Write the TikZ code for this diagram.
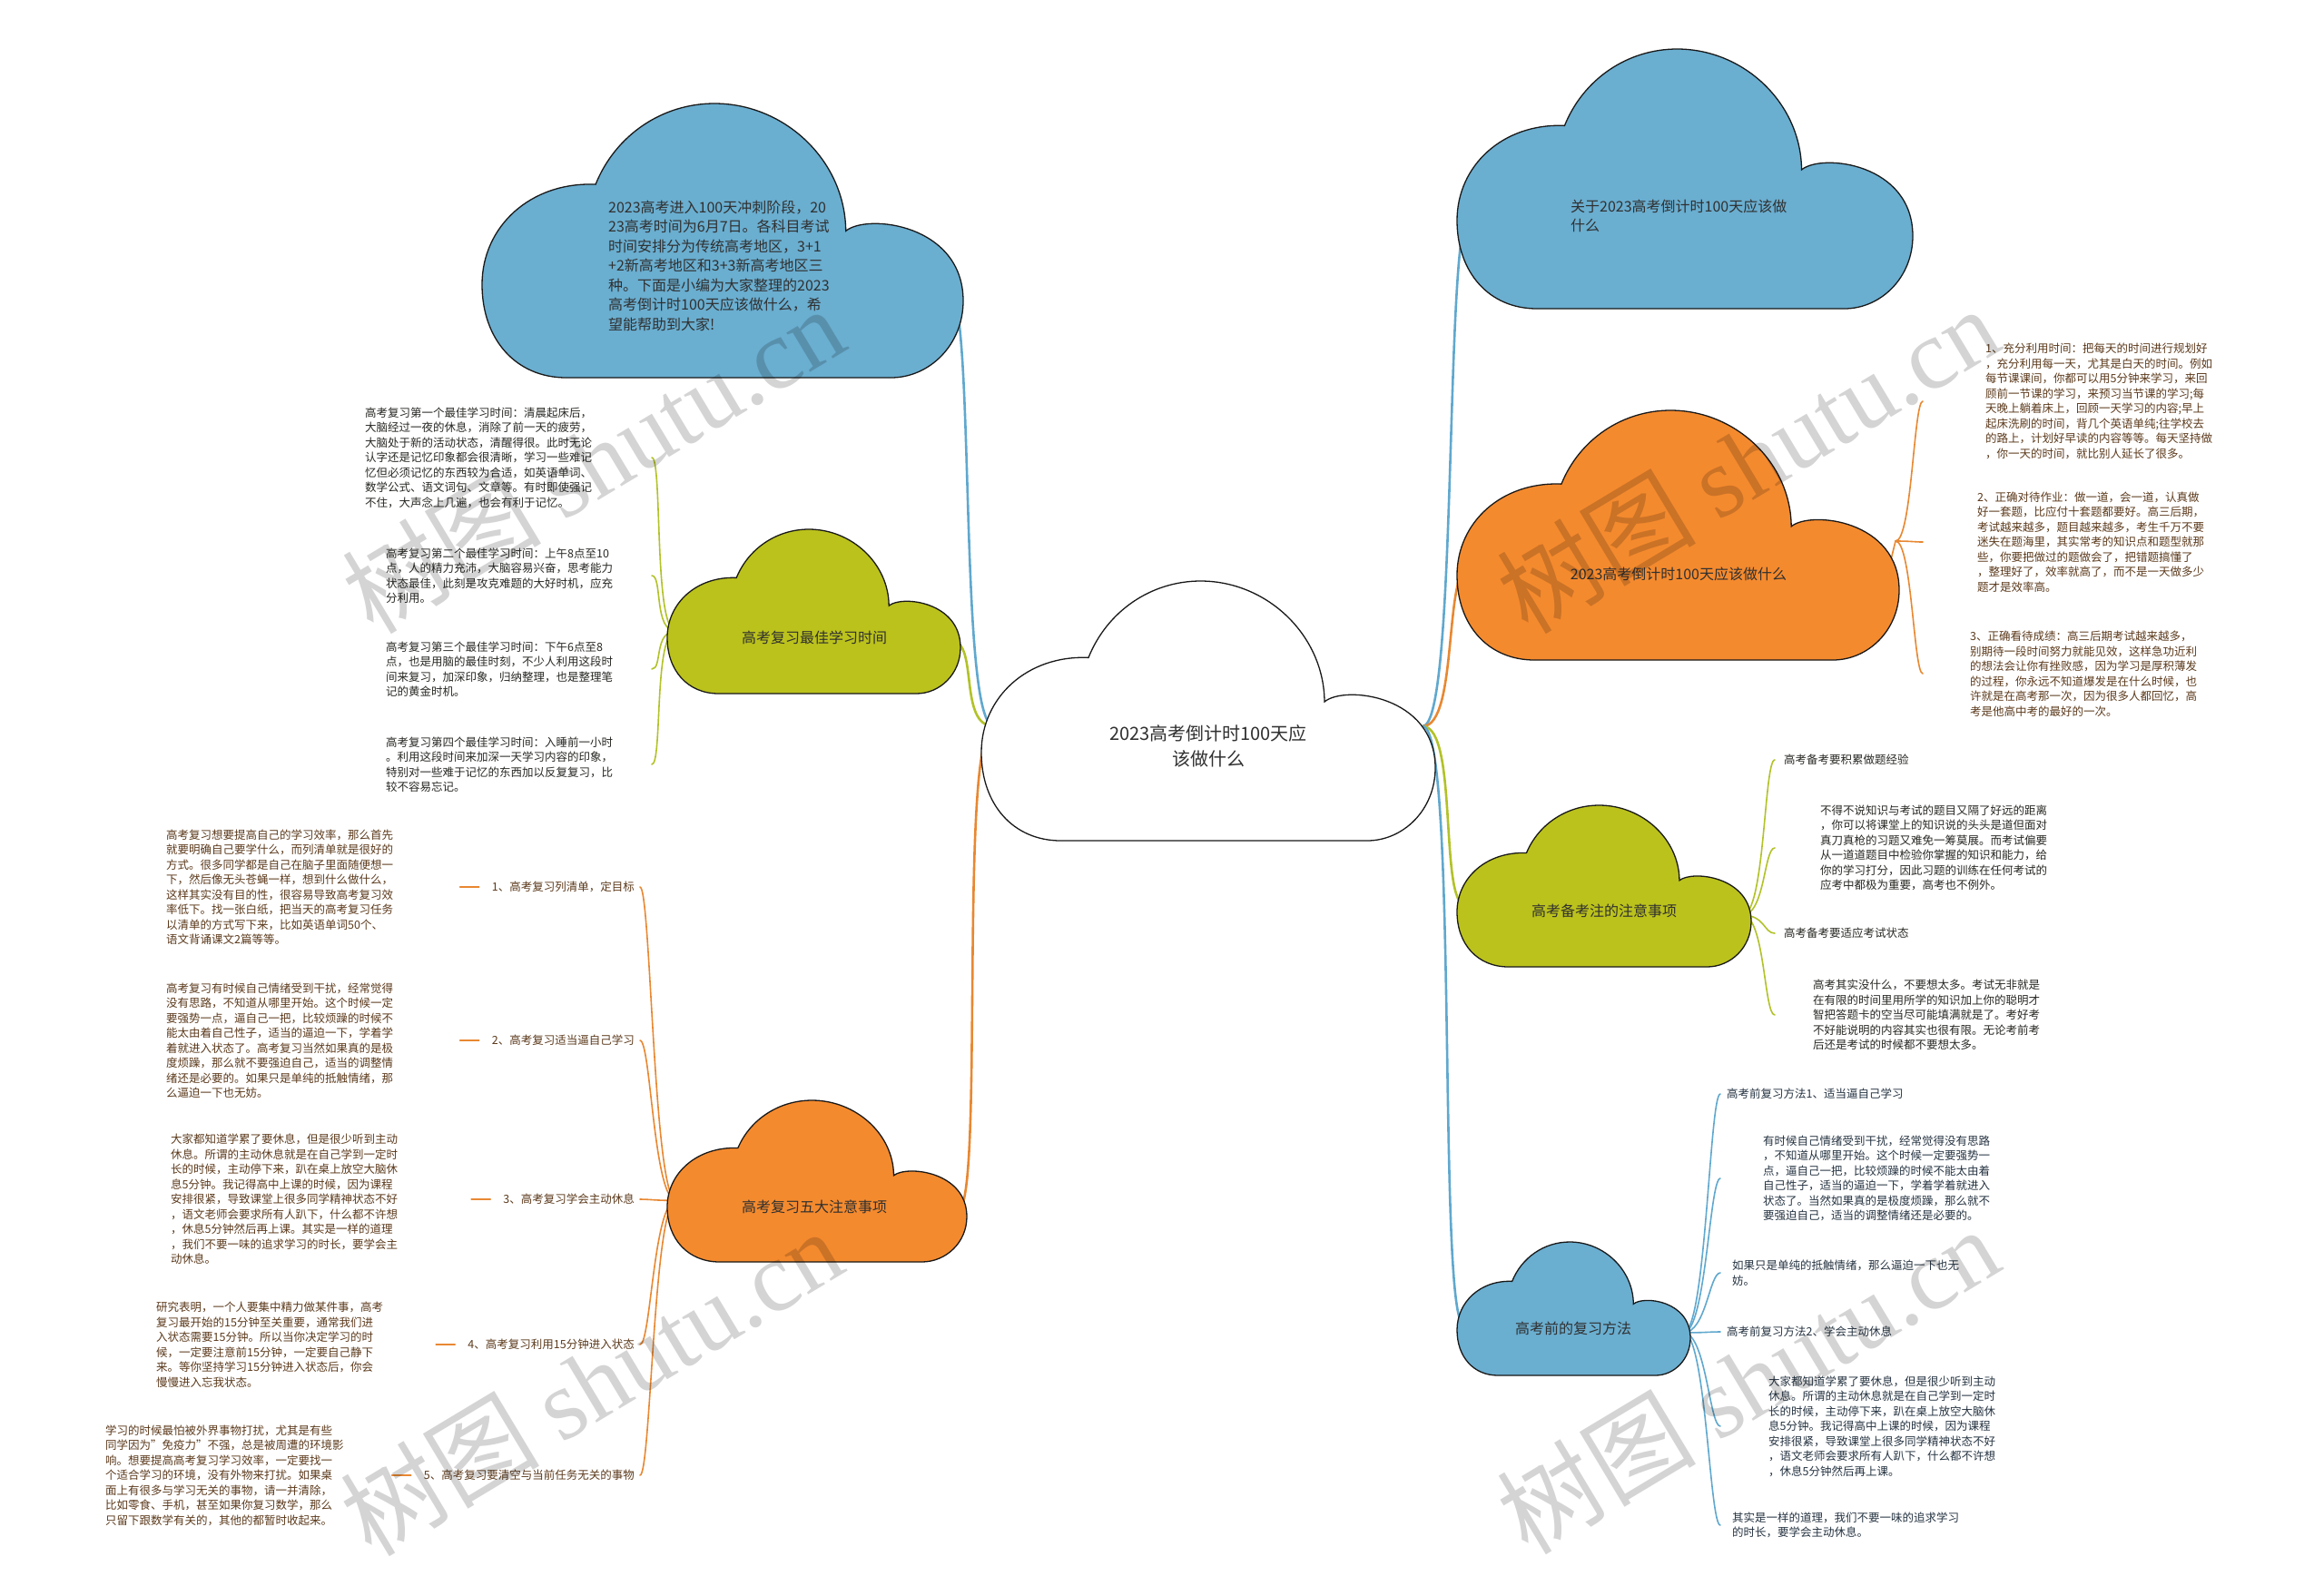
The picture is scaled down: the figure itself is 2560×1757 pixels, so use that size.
\documentclass[tikz,border=0pt]{standalone}
\usepackage{fontspec}
\setmainfont{Noto Sans CJK SC}
\newfontfamily\wmlatin{Liberation Serif}
\pgfdeclarelayer{bg}
\pgfdeclarelayer{fg}
\pgfsetlayers{bg,main,fg}
\definecolor{cblue}{RGB}{106,174,208}
\definecolor{corange}{RGB}{244,138,46}
\definecolor{cgreen}{RGB}{187,194,28}
\definecolor{lblue}{RGB}{96,168,206}
\definecolor{lorange}{RGB}{232,136,50}
\definecolor{lgreen}{RGB}{178,194,40}
\definecolor{cedge}{RGB}{25,25,25}
\definecolor{tdark}{RGB}{48,48,48}
\definecolor{tbrown}{RGB}{92,58,28}
\definecolor{tgreen}{RGB}{40,40,36}
\definecolor{tblue}{RGB}{38,52,66}
\tikzset{
 cloudedge/.style={draw=cedge,line width=1.3pt},
 cloudtxt/.style={font=\fontsize{16}{21.5}\selectfont,text=tdark,inner sep=0pt,align=left},
 leaf/.style={font=\fontsize{12.5}{16.5}\selectfont,inner sep=0pt,align=left,anchor=west},
 gleaf/.style={leaf,text=tgreen},
 oleaf/.style={leaf,text=tbrown},
 bleaf/.style={leaf,text=tblue},
 mainline/.style={line width=2.6pt,line cap=round},
 leafline/.style={line width=1.6pt,line cap=round},
 wm/.style={text=black,text opacity=0.17,inner sep=0pt,font=\fontsize{110}{110}\selectfont,rotate=31}
}
% name, x, y, w, h, fill
\newcommand\mmcloud[6]{%
 \begin{scope}[shift={(#2,#3)},xscale=#4,yscale=#5]
  \filldraw[cloudedge,fill=#6] (0.175,1) .. controls (0.07,1) and (0,0.86) .. (0,0.66)
   .. controls (0,0.45) and (0.10,0.285) .. (0.236,0.295)
   .. controls (0.277,0.116) and (0.374,0) .. (0.483,0)
   .. controls (0.63,0) and (0.755,0.21) .. (0.756,0.465)
   .. controls (0.80,0.40) and (1,0.44) .. (1,0.72)
   .. controls (1,0.88) and (0.93,1) .. (0.85,1) -- cycle;
  \coordinate (#1-W) at (0.03,0.62);
  \coordinate (#1-E) at (0.97,0.68);
 \end{scope}}
\begin{document}
\begin{tikzpicture}[x=1pt,y=-1pt]
\useasboundingbox (0,0) rectangle (2560,1757);
\begin{pgfonlayer}{bg}
\fill[white] (0,0) rectangle (2560,1757);
\end{pgfonlayer}

% ---------- clouds ----------
\mmcloud{ctr}{1081}{640}{500}{286}{white}
\mmcloud{tl}{531}{114}{530}{302}{cblue}
\mmcloud{gl}{735}{583}{323}{181}{cgreen}
\mmcloud{ol}{735}{1212}{330}{178}{corange}
\mmcloud{tr}{1605}{54}{502}{286}{cblue}
\mmcloud{or}{1605}{452}{487}{275}{corange}
\mmcloud{gr}{1605}{887}{324}{178}{cgreen}
\mmcloud{br}{1605}{1368}{257}{147}{cblue}
\coordinate (ctr-L) at (1095,800);
\coordinate (ctr-R) at (1567,800);
\coordinate (or-V) at (2088,596);

% ---------- cloud texts ----------
\node[font=\fontsize{20}{28}\selectfont,align=center,text=tdark,inner sep=0pt] (ctrtxt) at (1331,822) {2023高考倒计时100天应\\该做什么};
\node[cloudtxt,anchor=west] (tltxt) at (670,292.5) {2023高考进入100天冲刺阶段，20\\23高考时间为6月7日。各科目考试\\时间安排分为传统高考地区，3+1\\+2新高考地区和3+3新高考地区三\\种。下面是小编为大家整理的2023\\高考倒计时100天应该做什么，希\\望能帮助到大家!};
\node[cloudtxt,anchor=west] (trtxt) at (1730,238) {关于2023高考倒计时100天应该做\\什么};
\node[cloudtxt] (ortxt) at (1849,632) {2023高考倒计时100天应该做什么};
\node[cloudtxt] (gltxt) at (897,702) {高考复习最佳学习时间};
\node[cloudtxt] (oltxt) at (897,1329) {高考复习五大注意事项};
\node[cloudtxt] (grtxt) at (1767,1003) {高考备考注的注意事项};
\node[cloudtxt] (brtxt) at (1733,1463) {高考前的复习方法};

% ---------- green left leaves ----------
\node[gleaf] (g1) at (402,504) {高考复习第一个最佳学习时间：清晨起床后，\\大脑经过一夜的休息，消除了前一天的疲劳，\\大脑处于新的活动状态，清醒得很。此时无论\\认字还是记忆印象都会很清晰，学习一些难记\\忆但必须记忆的东西较为合适，如英语单词、\\数学公式、语文词句、文章等。有时即使强记\\不住，大声念上几遍，也会有利于记忆。};
\node[gleaf] (g2) at (425,634) {高考复习第二个最佳学习时间：上午8点至10\\点，人的精力充沛，大脑容易兴奋，思考能力\\状态最佳，此刻是攻克难题的大好时机，应充\\分利用。};
\node[gleaf] (g3) at (425,737) {高考复习第三个最佳学习时间：下午6点至8\\点，也是用脑的最佳时刻，不少人利用这段时\\间来复习，加深印象，归纳整理，也是整理笔\\记的黄金时机。};
\node[gleaf] (g4) at (425,842) {高考复习第四个最佳学习时间：入睡前一小时\\。利用这段时间来加深一天学习内容的印象，\\特别对一些难于记忆的东西加以反复复习，比\\较不容易忘记。};

% ---------- orange left leaves ----------
\node[oleaf,anchor=east] (ol1) at (699,977) {1、高考复习列清单，定目标};
\node[oleaf,anchor=east] (ol2) at (699,1146) {2、高考复习适当逼自己学习};
\node[oleaf,anchor=east] (ol3) at (699,1321) {3、高考复习学会主动休息};
\node[oleaf,anchor=east] (ol4) at (699,1481) {4、高考复习利用15分钟进入状态};
\node[oleaf,anchor=east] (ol5) at (699,1625) {5、高考复习要清空与当前任务无关的事物};
\node[oleaf] (ob1) at (183,977) {高考复习想要提高自己的学习效率，那么首先\\就要明确自己要学什么，而列清单就是很好的\\方式。很多同学都是自己在脑子里面随便想一\\下，然后像无头苍蝇一样，想到什么做什么，\\这样其实没有目的性，很容易导致高考复习效\\率低下。找一张白纸，把当天的高考复习任务\\以清单的方式写下来，比如英语单词50个、\\语文背诵课文2篇等等。};
\node[oleaf] (ob2) at (183,1146) {高考复习有时候自己情绪受到干扰，经常觉得\\没有思路，不知道从哪里开始。这个时候一定\\要强势一点，逼自己一把，比较烦躁的时候不\\能太由着自己性子，适当的逼迫一下，学着学\\着就进入状态了。高考复习当然如果真的是极\\度烦躁，那么就不要强迫自己，适当的调整情\\绪还是必要的。如果只是单纯的抵触情绪，那\\么逼迫一下也无妨。};
\node[oleaf] (ob3) at (188,1321) {大家都知道学累了要休息，但是很少听到主动\\休息。所谓的主动休息就是在自己学到一定时\\长的时候，主动停下来，趴在桌上放空大脑休\\息5分钟。我记得高中上课的时候，因为课程\\安排很紧，导致课堂上很多同学精神状态不好\\，语文老师会要求所有人趴下，什么都不许想\\，休息5分钟然后再上课。其实是一样的道理\\，我们不要一味的追求学习的时长，要学会主\\动休息。};
\node[oleaf] (ob4) at (172,1481) {研究表明，一个人要集中精力做某件事，高考\\复习最开始的15分钟至关重要，通常我们进\\入状态需要15分钟。所以当你决定学习的时\\候，一定要注意前15分钟，一定要自己静下\\来。等你坚持学习15分钟进入状态后，你会\\慢慢进入忘我状态。};
\node[oleaf] (ob5) at (116,1625) {学习的时候最怕被外界事物打扰，尤其是有些\\同学因为"免疫力"不强，总是被周遭的环境影\\响。想要提高高考复习学习效率，一定要找一\\个适合学习的环境，没有外物来打扰。如果桌\\面上有很多与学习无关的事物，请一并清除，\\比如零食、手机，甚至如果你复习数学，那么\\只留下跟数学有关的，其他的都暂时收起来。};

% ---------- orange right leaves ----------
\node[oleaf] (r1) at (2187,442) {1、充分利用时间：把每天的时间进行规划好\\，充分利用每一天，尤其是白天的时间。例如\\每节课课间，你都可以用5分钟来学习，来回\\顾前一节课的学习，来预习当节课的学习;每\\天晚上躺着床上，回顾一天学习的内容;早上\\起床洗刷的时间，背几个英语单纯;往学校去\\的路上，计划好早读的内容等等。每天坚持做\\，你一天的时间，就比别人延长了很多。};
\node[oleaf] (r2) at (2178,597) {2、正确对待作业：做一道，会一道，认真做\\好一套题，比应付十套题都要好。高三后期，\\考试越来越多，题目越来越多，考生千万不要\\迷失在题海里，其实常考的知识点和题型就那\\些，你要把做过的题做会了，把错题搞懂了\\，整理好了，效率就高了，而不是一天做多少\\题才是效率高。};
\node[oleaf] (r3) at (2170,742) {3、正确看待成绩：高三后期考试越来越多，\\别期待一段时间努力就能见效，这样急功近利\\的想法会让你有挫败感，因为学习是厚积薄发\\的过程，你永远不知道爆发是在什么时候，也\\许就是在高考那一次，因为很多人都回忆，高\\考是他高中考的最好的一次。};

% ---------- green right leaves ----------
\node[gleaf] (grl1) at (1965,837) {高考备考要积累做题经验};
\node[gleaf] (grb1) at (2005,934) {不得不说知识与考试的题目又隔了好远的距离\\，你可以将课堂上的知识说的头头是道但面对\\真刀真枪的习题又难免一筹莫展。而考试偏要\\从一道道题目中检验你掌握的知识和能力，给\\你的学习打分，因此习题的训练在任何考试的\\应考中都极为重要，高考也不例外。};
\node[gleaf] (grl2) at (1965,1028) {高考备考要适应考试状态};
\node[gleaf] (grb2) at (1997,1118) {高考其实没什么，不要想太多。考试无非就是\\在有限的时间里用所学的知识加上你的聪明才\\智把答题卡的空当尽可能填满就是了。考好考\\不好能说明的内容其实也很有限。无论考前考\\后还是考试的时候都不要想太多。};

% ---------- blue right leaves ----------
\node[bleaf] (bl1) at (1902,1205) {高考前复习方法1、适当逼自己学习};
\node[bleaf] (bb1) at (1942,1298) {有时候自己情绪受到干扰，经常觉得没有思路\\，不知道从哪里开始。这个时候一定要强势一\\点，逼自己一把，比较烦躁的时候不能太由着\\自己性子，适当的逼迫一下，学着学着就进入\\状态了。当然如果真的是极度烦躁，那么就不\\要强迫自己，适当的调整情绪还是必要的。};
\node[bleaf] (bb2) at (1908,1402) {如果只是单纯的抵触情绪，那么逼迫一下也无\\妨。};
\node[bleaf] (bl2) at (1902,1467) {高考前复习方法2、学会主动休息};
\node[bleaf] (bb3) at (1948,1571) {大家都知道学累了要休息，但是很少听到主动\\休息。所谓的主动休息就是在自己学到一定时\\长的时候，主动停下来，趴在桌上放空大脑休\\息5分钟。我记得高中上课的时候，因为课程\\安排很紧，导致课堂上很多同学精神状态不好\\，语文老师会要求所有人趴下，什么都不许想\\，休息5分钟然后再上课。};
\node[bleaf] (bb4) at (1908,1680) {其实是一样的道理，我们不要一味的追求学习\\的时长，要学会主动休息。};

% ---------- connector x-positions ----------
\coordinate (gx) at (718,0);
\coordinate (orx) at (2118,0);
\coordinate (grx) at (1955,0);
\coordinate (brx) at (1895,0);

\begin{pgfonlayer}{bg}
 % main branches
 \draw[mainline,lblue] (ctr-L) .. controls +(-40,0) and +(30,0) .. (tl-E);
 \draw[mainline,lgreen] (ctr-L) .. controls +(-40,0) and +(30,0) .. (gl-E);
 \draw[mainline,lorange] (ctr-L) .. controls +(-40,0) and +(30,0) .. (ol-E);
 \draw[mainline,lblue] (ctr-R) .. controls +(40,0) and +(-30,0) .. (tr-W);
 \draw[mainline,lorange] (ctr-R) .. controls +(40,0) and +(-30,0) .. (or-W);
 \draw[mainline,lgreen] (ctr-R) .. controls +(40,0) and +(-30,0) .. (gr-W);
 \draw[mainline,lblue] (ctr-R) .. controls +(40,0) and +(-30,0) .. (br-W);
 % green left leaves
 \foreach \n in {g1,g2,g3,g4}
  \draw[leafline,lgreen] (gl-W) .. controls +(-25,0) and +(12,0) .. (\n.east -| gx);
 % orange left leaves
 \foreach \n in {ol1,ol2,ol3,ol4,ol5}
  \draw[leafline,lorange] (ol-W) .. controls +(-25,0) and +(12,0) .. ([xshift=6pt]\n.east);
 \draw[leafline,lorange] ([xshift=-14pt]ol1.west) -- ([xshift=-35pt]ol1.west);
 \draw[leafline,lorange] ([xshift=-14pt]ol2.west) -- ([xshift=-35pt]ol2.west);
 \draw[leafline,lorange] ([xshift=-14pt]ol3.west) -- ([xshift=-35pt]ol3.west);
 \draw[leafline,lorange] ([xshift=-14pt]ol4.west) -- ([xshift=-35pt]ol4.west);
 \draw[leafline,lorange] ([xshift=-14pt]ol5.west) -- ([xshift=-35pt]ol5.west);
 % orange right leaves
 \draw[leafline,lorange] (or-E) -- (or-V);
 \foreach \n in {r1,r2,r3}
  \draw[leafline,lorange] (or-V) .. controls +(18,0) and +(-10,0) .. (\n.west -| orx);
 % green right leaves
 \foreach \n in {grl1,grb1,grl2,grb2}
  \draw[leafline,lgreen] (gr-E) .. controls +(25,0) and +(-12,0) .. (\n.west -| grx);
 % blue right leaves
 \foreach \n in {bl1,bb1,bb2,bl2,bb3,bb4}
  \draw[leafline,lblue] (br-E) .. controls +(25,0) and +(-12,0) .. (\n.west -| brx);
\end{pgfonlayer}

% ---------- watermarks ----------
\begin{pgfonlayer}{fg}
 \node[wm] (wm1) at (653,506) {树图 {\wmlatin shutu.cn}};
 \node[wm] (wm2) at (1925,506) {树图 {\wmlatin shutu.cn}};
 \node[wm] (wm3) at (651,1522) {树图 {\wmlatin shutu.cn}};
 \node[wm] (wm4) at (1925,1520) {树图 {\wmlatin shutu.cn}};
\end{pgfonlayer}
\end{tikzpicture}
\end{document}
